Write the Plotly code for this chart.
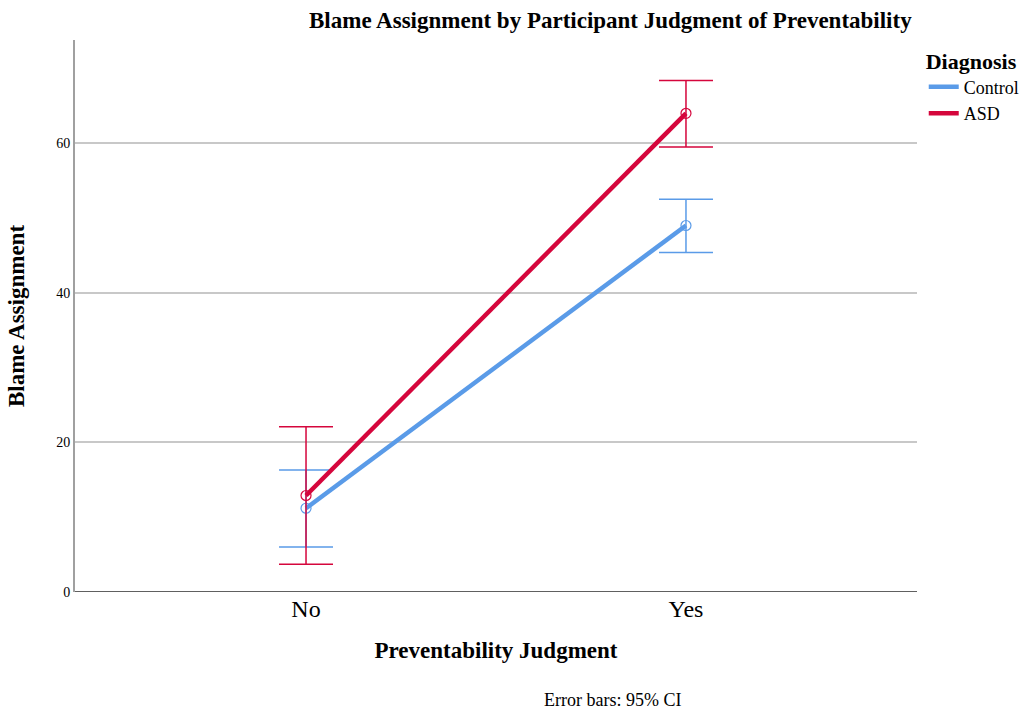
import plotly.graph_objects as go

categories = ["No", "Yes"]
groups = ["Control", "ASD"]
control_mean = [11.2, 49.0]
control_hi = [16.3, 52.5]
control_lo = [6.0, 45.4]
asd_mean = [12.9, 64.0]
asd_hi = [22.1, 68.4]
asd_lo = [3.7, 59.5]
colors = {"Control": "#5A9BE8", "ASD": "#D5063C"}
y_ticks = [0, 20, 40, 60]

FONT = "Liberation Serif, Times New Roman, serif"
fig = go.Figure()
series = {"Control": (control_mean, control_hi, control_lo),
          "ASD": (asd_mean, asd_hi, asd_lo)}
xpos = list(range(len(categories)))
for g in groups:
    m, hi, lo = series[g]
    c = colors[g]
    fig.add_trace(go.Scatter(
        x=xpos, y=m, mode="lines+markers", showlegend=False,
        line=dict(color=c, width=4.5),
        marker=dict(symbol="circle-open", size=10, color=c, line=dict(width=1.2, color=c)),
        error_y=dict(type="data", symmetric=False,
                     array=[h - v for h, v in zip(hi, m)],
                     arrayminus=[v - l for v, l in zip(m, lo)],
                     color=c, thickness=1.5, width=27),
    ))
for g in groups:
    fig.add_trace(go.Scatter(x=[None], y=[None], mode="lines", name=g,
                             line=dict(color=colors[g], width=4.5)))

fig.update_layout(
    width=1028, height=710,
    margin=dict(l=75, r=111, t=40, b=118, autoexpand=False),
    paper_bgcolor="white", plot_bgcolor="white",
    font=dict(family=FONT, color="black"),
    showlegend=True,
    legend=dict(title=dict(text="<b>Diagnosis</b>", font=dict(size=22)),
                font=dict(size=18), x=1.008, y=1.0, xanchor="left", yanchor="top",
                itemwidth=30, tracegroupgap=0),
    xaxis=dict(range=[-0.608, 1.608], tickvals=xpos, ticktext=categories,
               tickfont=dict(size=24), showgrid=False, zeroline=False,
               showline=False, ticks="",
               title=dict(text="<b>Preventability Judgment</b>", font=dict(size=23), standoff=20)),
    yaxis=dict(range=[0, 73.8], tickvals=y_ticks, tickfont=dict(size=14),
               showgrid=True, gridcolor="#C8C8C8", gridwidth=1.5, zeroline=False,
               showline=True, linecolor="#A0A0A0", linewidth=2, ticks="",
               title=dict(text="<b>Blame Assignment</b>", font=dict(size=23), standoff=25)),
    shapes=[dict(type="line", xref="paper", yref="y", x0=0, x1=1, y0=0, y1=0,
                 line=dict(color="#606060", width=2))],
    annotations=[
        dict(text="<b>Blame Assignment by Participant Judgment of Preventability</b>",
             xref="paper", yref="paper", x=0.996, y=1.0, yshift=20, xanchor="right",
             yanchor="middle", showarrow=False, font=dict(size=23)),
        dict(text="Error bars: 95% CI", xref="paper", yref="paper", x=0.722,
             y=-0.196, xanchor="right", yanchor="middle", showarrow=False,
             font=dict(size=18)),
    ],
)
fig.write_html("out.html")
